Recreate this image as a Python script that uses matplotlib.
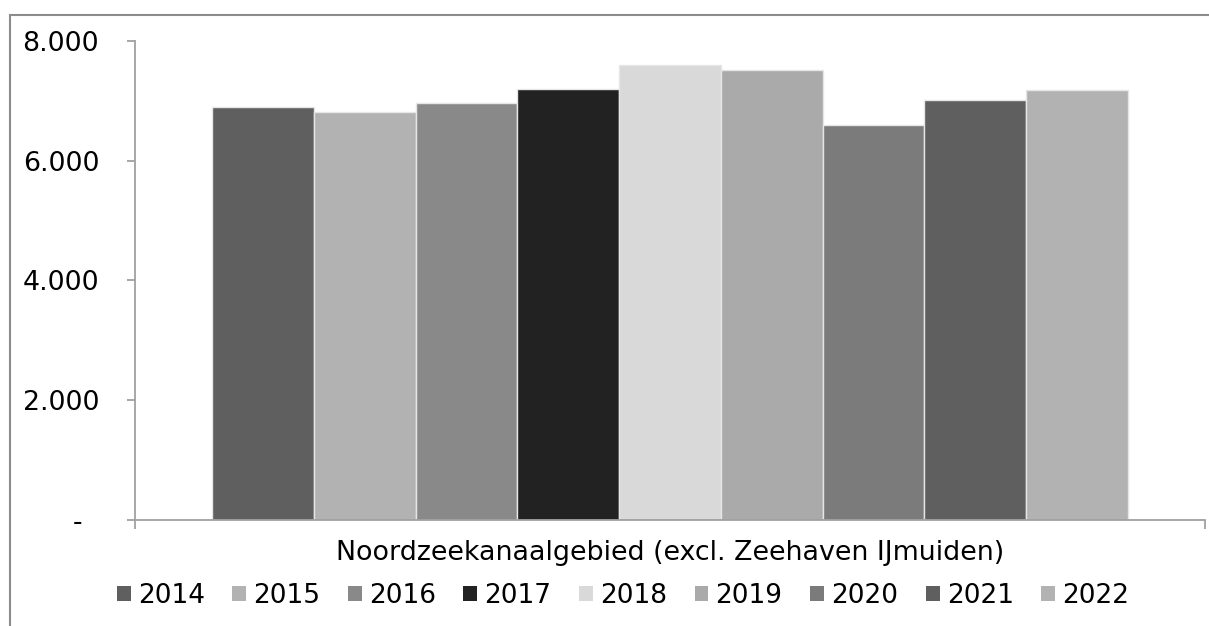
import matplotlib.pyplot as plt
from matplotlib.patches import Patch, Rectangle

years = ["2014", "2015", "2016", "2017", "2018", "2019", "2020", "2021", "2022"]
values = [6890, 6805, 6960, 7195, 7605, 7520, 6590, 7015, 7175]
colors = ["#5f5f5f", "#b2b2b2", "#898989", "#222222", "#d9d9d9",
          "#aaaaaa", "#7b7b7b", "#5f5f5f", "#b2b2b2"]
category = "Noordzeekanaalgebied (excl. Zeehaven IJmuiden)"
yticks = [0, 2000, 4000, 6000, 8000]
ytick_labels = ["-  ", "2.000", "4.000", "6.000", "8.000"]

plt.rcParams["font.family"] = "DejaVu Sans"
W, H = 1209, 626
fig = plt.figure(figsize=(W / 100, H / 100), dpi=100)

# outer chart frame (right and bottom edges fall outside the image)
fig.add_artist(Rectangle((9.5 / W, -0.1), 1.2, (H - 14.7) / H + 0.1,
                         transform=fig.transFigure, fill=False,
                         edgecolor="#8c8c8c", linewidth=1.5))

ax = fig.add_axes([135 / W, (H - 519.5) / H, (1205 - 135) / W, (519.5 - 41) / H])

bar_w = 0.856 / len(years)
start = -0.428
for i, (y, v, c) in enumerate(zip(years, values, colors)):
    ax.bar(start + bar_w * (i + 0.5), v, width=bar_w, color=c,
           edgecolor="#e6e6e6", linewidth=1.0, label=y)

ax.set_xlim(-0.5, 0.5)
ax.set_ylim(0, 8000)
ax.set_yticks(yticks)
ax.set_yticklabels(ytick_labels)
ax.set_xticks([-0.5, 0.5])
ax.set_xticklabels([])

for s in ["top", "right"]:
    ax.spines[s].set_visible(False)
for s in ["left", "bottom"]:
    ax.spines[s].set_color("#a0a0a0")
    ax.spines[s].set_linewidth(1.3)
ax.tick_params(axis="y", length=5.8, width=1.3, color="#a0a0a0",
               labelsize=19.3, pad=20)
ax.tick_params(axis="x", length=6.5, width=1.3, color="#a0a0a0")

ax.text(0.5, -0.07, category, transform=ax.transAxes, ha="center",
        va="center", fontsize=19.4)

handles = [Patch(facecolor=c, edgecolor="none") for c in colors]
fig.legend(handles, years, loc="center", bbox_to_anchor=(623 / W, (H - 596) / H),
           ncol=len(years), frameon=False, fontsize=19, handlelength=0.53,
           handleheight=0.53, handletextpad=0.27, columnspacing=1.04,
           borderaxespad=0, borderpad=0)

fig.savefig("out.png", dpi=100)
